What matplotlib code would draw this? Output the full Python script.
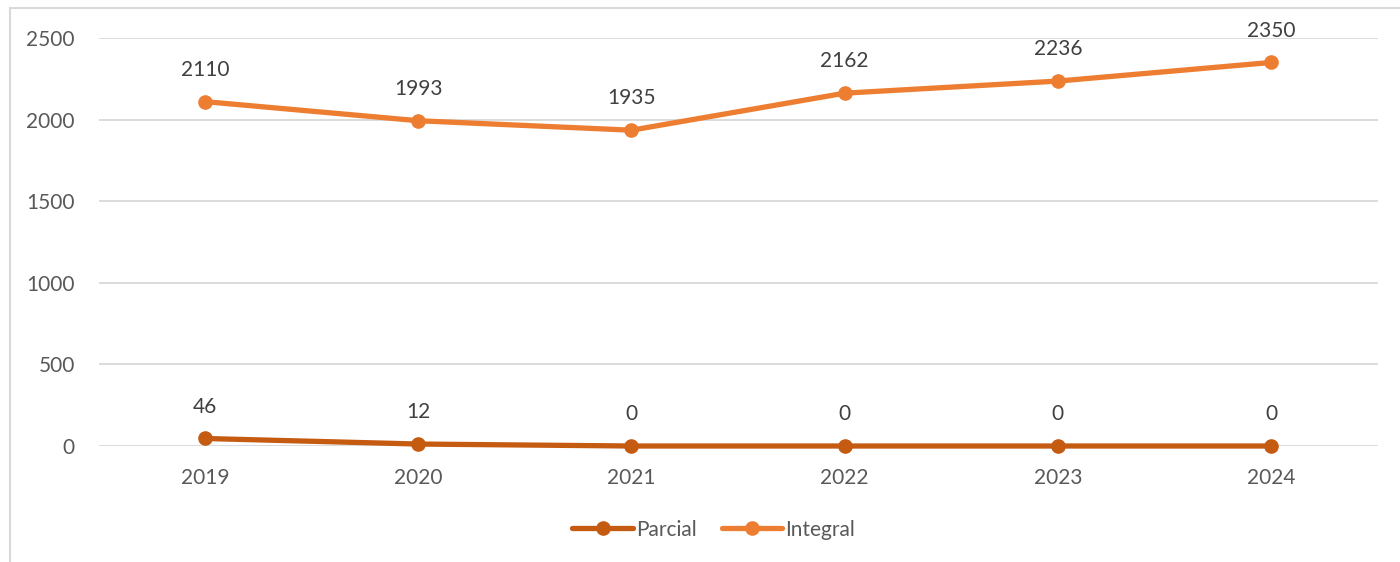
import matplotlib.pyplot as plt
from matplotlib.patches import Rectangle

years = ["2019", "2020", "2021", "2022", "2023", "2024"]
parcial = [46, 12, 0, 0, 0, 0]
integral = [2110, 1993, 1935, 2162, 2236, 2350]

plt.rcParams["font.family"] = ["Lato", "DejaVu Sans"]

fig = plt.figure(figsize=(14, 5.62), dpi=100)
ax = fig.add_axes([0.0704, 0.2064, 0.9136, 0.726])

x = range(len(years))
series = [
    ("Parcial", parcial, "#C55A11"),
    ("Integral", integral, "#ED7D31"),
]
for name, vals, color in series:
    ax.plot(x, vals, color=color, lw=3.8, marker="o", ms=9.5,
            solid_capstyle="round", label=name, zorder=3, clip_on=False)
    for xi, v in zip(x, vals):
        ax.annotate(str(v), (xi, v), xytext=(0, 23), textcoords="offset points",
                    ha="center", va="center", fontsize=15, color="#404040")

ax.set_xlim(-0.5, len(years) - 0.5)
ax.set_ylim(0, 2500)
ax.set_yticks(range(0, 2501, 500))
ax.set_xticks(list(x))
ax.set_xticklabels(years)
ax.grid(axis="y", color="#D9D9D9", lw=1.3)
ax.set_axisbelow(True)
for s in ax.spines.values():
    s.set_visible(False)
ax.tick_params(length=0, labelsize=15, labelcolor="#595959")
ax.tick_params(axis="y", pad=17)
ax.tick_params(axis="x", pad=16)

ax.legend(loc="center", bbox_to_anchor=(0.481, -0.205), ncol=2, frameon=False,
          fontsize=15, labelcolor="#595959", handlelength=2.9, markerscale=1.0,
          handletextpad=0.15, columnspacing=1.2)

fig.patches.append(Rectangle((10 / 1400, -0.1), 1.2, 1 - 8 / 562 + 0.1,
                             transform=fig.transFigure, fill=False,
                             edgecolor="#D9D9D9", lw=1.5))

fig.savefig("out.png", dpi=100)
